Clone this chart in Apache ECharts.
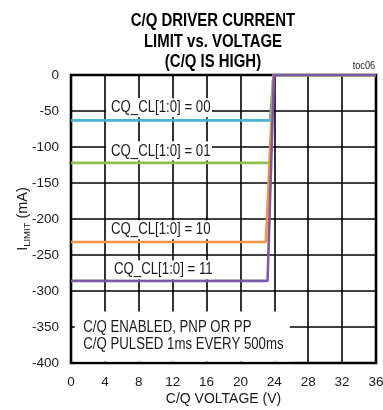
<!DOCTYPE html>
<html>
<head>
<meta charset="utf-8">
<script src="https://cdn.jsdelivr.net/npm/echarts@6/dist/echarts.min.js"></script>
<style>html,body{margin:0;padding:0;background:#fff}#c{width:383px;height:410px}</style>
</head>
<body>
<div id="c"></div>
<script>
// ---- data ----
const xMin = 0, xMax = 36, xStep = 4;
const yMin = -400, yMax = 0, yStep = 50;
const seriesNames = ['CQ_CL[1:0] = 00', 'CQ_CL[1:0] = 01', 'CQ_CL[1:0] = 10', 'CQ_CL[1:0] = 11'];
const cl00 = [[0, -63], [23.5, -63], [23.9, 0], [36, 0]];
const cl01 = [[0, -122], [23.5, -122], [23.9, 0], [36, 0]];
const cl10 = [[0, -232], [23.0, -232], [23.9, 0], [36, 0]];
const cl11 = [[0, -286], [23.2, -286], [23.95, 0], [36, 0]];
// annotation anchors (text left-middle, in data units)
const labelAnchors = [[4.72, -45.6], [4.72, -105.7], [4.72, -214.8], [5.08, -270.4]];
const noteAnchor = [0.45, -328.5];   // top-left of the note box
const noteLines = ['C/Q ENABLED, PNP OR PP', 'C/Q PULSED 1ms EVERY 500ms'];
const titleText = 'C/Q DRIVER CURRENT\nLIMIT vs. VOLTAGE\n(C/Q IS HIGH)';
const xName = 'C/Q VOLTAGE (V)';
const tocText = 'toc06';

const FONT = "'Liberation Sans', Arial, Helvetica, sans-serif";
const TXT = '#1a1a1a';
const NARROW = 0.826;
const colors = ['#49b4cf', '#8cbf4f', '#f79443', '#7c5ba6'];
const lines = [cl00, cl01, cl10, cl11];

const chart = echarts.init(document.getElementById('c'), null, {renderer: 'canvas'});

const series = lines.map((d, i) => ({
  type: 'line', name: seriesNames[i], data: d, symbol: 'none', z: 3,
  lineStyle: {color: colors[i], width: 2.6}, animation: false
}));

series.push({
  type: 'custom', z: 5, silent: true, animation: false,
  data: labelAnchors.map((p, i) => [p[0], p[1], i]),
  encode: {x: 0, y: 1},
  renderItem: function (params, api) {
    const i = api.value(2);
    const p = api.coord([api.value(0), api.value(1)]);
    return {
      type: 'group', children: [
        {type: 'rect', shape: {x: p[0] - 5, y: p[1] - 9.5, width: 106, height: 19}, style: {fill: '#fff'}},
        {type: 'text', x: p[0], y: p[1], scaleX: NARROW, scaleY: 1,
          style: {text: seriesNames[i], fontFamily: FONT, fontSize: 16, fill: TXT, align: 'left', verticalAlign: 'middle'}}
      ]
    };
  }
});

series.push({
  type: 'custom', z: 5, silent: true, animation: false,
  data: [[noteAnchor[0], noteAnchor[1]]],
  encode: {x: 0, y: 1},
  renderItem: function (params, api) {
    const p = api.coord([api.value(0), api.value(1)]);
    return {
      type: 'group', children: [
        {type: 'rect', shape: {x: p[0], y: p[1], width: 215, height: 50}, style: {fill: '#fff'}},
        {type: 'text', x: p[0] + 8.5, y: p[1] + 16.2, scaleX: NARROW,
          style: {text: noteLines[0], fontFamily: FONT, fontSize: 16, fill: TXT, align: 'left', verticalAlign: 'middle'}},
        {type: 'text', x: p[0] + 8.5, y: p[1] + 32.7, scaleX: NARROW,
          style: {text: noteLines[1], fontFamily: FONT, fontSize: 16, fill: TXT, align: 'left', verticalAlign: 'middle'}}
      ]
    };
  }
});

chart.setOption({
  animation: false,
  graphic: [
    {type: 'text', x: 213, y: 10.6, scaleX: 0.83, silent: true,
     style: {text: titleText, fontFamily: FONT, fontWeight: 'bold', fontSize: 18, lineHeight: 20.7,
             fill: '#000', align: 'center', verticalAlign: 'top'}},
    {type: 'text', x: 375, y: 66, scaleX: NARROW, silent: true,
     style: {text: tocText, fontFamily: FONT, fontSize: 11, fill: '#222', align: 'right', verticalAlign: 'middle'}}
  ],
  grid: {left: 71, right: 7, top: 75, bottom: 47, show: true, borderColor: '#000', borderWidth: 2.6,
         backgroundColor: 'transparent', containLabel: false, outerBoundsMode: 'none'},
  xAxis: {
    type: 'value', min: xMin, max: xMax, interval: xStep,
    name: xName, nameLocation: 'middle', nameGap: 29, nameMoveOverlap: false,
    nameTextStyle: {fontFamily: FONT, fontSize: 14, color: TXT},
    axisLine: {show: false}, axisTick: {show: false},
    axisLabel: {fontFamily: FONT, fontSize: 13.5, color: TXT, margin: 12},
    splitLine: {show: true, lineStyle: {color: '#000', width: 1.6}}
  },
  yAxis: {
    type: 'value', min: yMin, max: yMax, interval: yStep,
    name: '{a|I}{b|LIMIT}{a| (mA)}', nameLocation: 'middle', nameGap: 39, nameRotate: 90, nameMoveOverlap: false,
    nameTextStyle: {fontFamily: FONT, fontSize: 14, color: TXT,
      rich: {a: {fontFamily: FONT, fontSize: 14.5, color: TXT, lineHeight: 18, verticalAlign: 'middle'},
             b: {fontFamily: FONT, fontSize: 9.5, color: TXT, lineHeight: 18, verticalAlign: 'bottom'}}},
    axisLine: {show: false}, axisTick: {show: false},
    axisLabel: {fontFamily: FONT, fontSize: 13.5, color: TXT, margin: 12},
    splitLine: {show: true, lineStyle: {color: '#000', width: 1.6}}
  },
  series: series
});
</script>
</body>
</html>
